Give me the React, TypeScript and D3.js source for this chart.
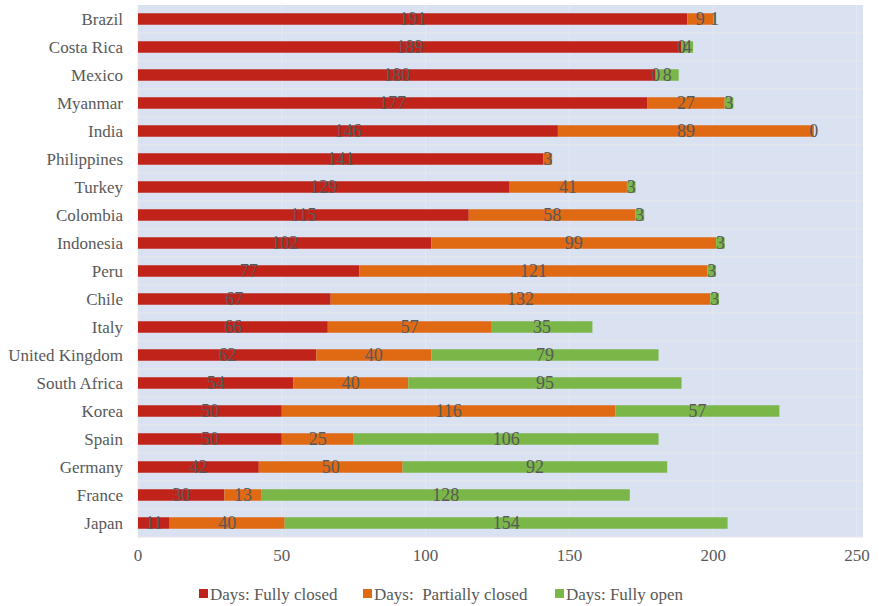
import React from "react";
import * as d3 from "d3";

const countries = ["Brazil","Costa Rica","Mexico","Myanmar","India","Philippines","Turkey","Colombia","Indonesia","Peru","Chile","Italy","United Kingdom","South Africa","Korea","Spain","Germany","France","Japan"];
const fullyClosed = [191,189,180,177,146,141,129,115,102,77,67,66,62,54,50,50,42,30,11];
const partiallyClosed = [9,0,0,27,89,3,41,58,99,121,132,57,40,40,116,25,50,13,40];
const fullyOpen: (number | null)[] = [1,4,8,3,0,null,3,3,3,3,3,35,79,95,57,106,92,128,154];
const seriesNames = ["Days: Fully closed","Days:  Partially closed","Days: Fully open"];
const seriesColors = ["#c0231a","#e06914","#7ab648"];
const xTicks = [0,50,100,150,200,250];

const W = 879, H = 606;
const left = 138, right = 863, top = 5, bottom = 537;

export default function App() {
  const x = d3.scaleLinear().domain([0, 250]).range([left, left + 719]);
  const y = d3.scaleBand<string>().domain(countries).range([top, bottom]).paddingInner(0).paddingOuter(0);
  const bw = y.bandwidth();
  const barH = bw * 0.41;
  const series = [fullyClosed, partiallyClosed, fullyOpen];
  const font = "Liberation Serif, Times New Roman, serif";
  const labelColor = "#595959";

  const segs: any[] = [];
  countries.forEach((c, i) => {
    let acc = 0;
    series.forEach((s, k) => {
      const v = s[i];
      if (v === null || v === undefined) return;
      segs.push({ c, k, x0: acc, x1: acc + v, v });
      acc += v;
    });
  });

  const legendX = [199, 363, 555];

  return (
    <svg width={W} height={H} style={{ position: "absolute", left: 0, top: 0, fontFamily: font }}>
      <rect x={left} y={top} width={right - left} height={bottom - top} fill="#dae1f0" />
      {xTicks.map(t => (
        <line key={"gx" + t} x1={x(t)} x2={x(t)} y1={top} y2={bottom} stroke="#e8e8ec" strokeWidth={1} />
      ))}
      {countries.map((c, i) => (
        <line key={"gy" + c} x1={left} x2={right} y1={(y(c) as number) + bw} y2={(y(c) as number) + bw} stroke="#e8e8ec" strokeWidth={1} />
      ))}
      {segs.map((s, j) => (
        <rect key={"r" + j} x={x(s.x0)} y={(y(s.c) as number) + (bw - barH) / 2} width={x(s.x1) - x(s.x0)} height={barH} fill={seriesColors[s.k]} />
      ))}
      {segs.map((s, j) => (
        <text key={"t" + j} x={(x(s.x0) + x(s.x1)) / 2} y={(y(s.c) as number) + bw / 2} dy="0.35em" textAnchor="middle" fontSize={18} fill={labelColor} style={{ fontFamily: font }}>{s.v}</text>
      ))}
      {countries.map(c => (
        <text key={"c" + c} x={123} y={(y(c) as number) + bw / 2} dy="0.35em" textAnchor="end" fontSize={17} fill={labelColor} style={{ fontFamily: font }}>{c}</text>
      ))}
      {xTicks.map(t => (
        <text key={"xt" + t} x={x(t)} y={555} dy="0.35em" textAnchor="middle" fontSize={17} fill={labelColor} style={{ fontFamily: font }}>{t}</text>
      ))}
      {seriesNames.map((n, k) => (
        <g key={"l" + k}>
          <rect x={legendX[k]} y={589} width={9} height={9} fill={seriesColors[k]} />
          <text x={legendX[k] + 11} y={594} dy="0.35em" fontSize={17} fill={labelColor} style={{ fontFamily: font, whiteSpace: "pre" }}>{n}</text>
        </g>
      ))}
    </svg>
  );
}
